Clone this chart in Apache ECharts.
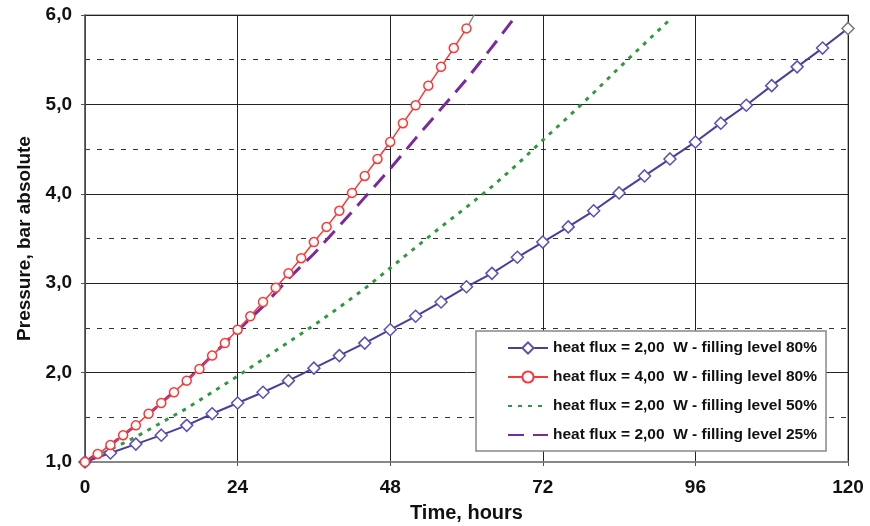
<!DOCTYPE html>
<html>
<head>
<meta charset="utf-8">
<script src="https://cdn.jsdelivr.net/npm/echarts@6/dist/echarts.min.js"></script>
<style>
  html, body { margin: 0; padding: 0; background: #fff; }
  #chart { width: 870px; height: 526px; }
</style>
</head>
<body>
<div id="chart"></div>
<script>
  const hoursBlue = [0, 4, 8, 12, 16, 20, 24, 28, 32, 36, 40, 44, 48, 52, 56, 60, 64, 68, 72, 76, 80, 84, 88, 92, 96, 100, 104, 108, 112, 116, 120]
  const pressBlue = [1.00, 1.10, 1.20, 1.30, 1.41, 1.54, 1.66, 1.78, 1.91, 2.05, 2.19, 2.33, 2.48, 2.63, 2.79, 2.96, 3.11, 3.29, 3.46, 3.63, 3.81, 4.01, 4.20, 4.39, 4.58, 4.79, 4.99, 5.21, 5.42, 5.63, 5.85]

  const hoursRed = [0, 2, 4, 6, 8, 10, 12, 14, 16, 18, 20, 22, 24, 26, 28, 30, 32, 34, 36, 38, 40, 42, 44, 46, 48, 50, 52, 54, 56, 58, 60]
  const pressRed = [1.00, 1.09, 1.19, 1.30, 1.41, 1.54, 1.66, 1.78, 1.91, 2.04, 2.19, 2.33, 2.48, 2.63, 2.79, 2.95, 3.11, 3.28, 3.46, 3.63, 3.81, 4.01, 4.20, 4.39, 4.58, 4.79, 4.99, 5.21, 5.42, 5.63, 5.85]

  const hoursGreen = [0, 4, 8, 12, 16, 20, 24, 28, 32, 36, 40, 44, 48, 52, 56, 60, 64, 68, 72, 76, 80, 84, 88, 92]
  const pressGreen = [1.00, 1.14, 1.28, 1.44, 1.60, 1.78, 1.96, 2.15, 2.34, 2.53, 2.73, 2.94, 3.17, 3.40, 3.63, 3.85, 4.08, 4.33, 4.60, 4.86, 5.13, 5.41, 5.68, 5.95]

  const hoursPurple = [0, 4, 8, 12, 16, 20, 24, 28, 32, 36, 40, 44, 48, 52, 56, 60, 64, 68]
  const pressPurple = [1.00, 1.19, 1.41, 1.66, 1.91, 2.19, 2.47, 2.74, 3.05, 3.33, 3.64, 3.96, 4.28, 4.62, 4.95, 5.28, 5.64, 6.01]

  // grey stub after last red point
  const hoursRedTail = [60, 61.2]
  const pressRedTail = [5.85, 6.0]

  const xTicks = [0, 24, 48, 72, 96, 120]

  const names = [
    'heat flux = 2,00  W - filling level 80%',
    'heat flux = 4,00  W - filling level 80%',
    'heat flux = 2,00  W - filling level 50%',
    'heat flux = 2,00  W - filling level 25%'
  ]

  function pairs(xs, ys) {
    return xs.map((x, i) => [x, ys[i]])
  }

  const blueData = pairs(hoursBlue, pressBlue)
  const last = blueData.length - 1
  blueData[last] = { value: blueData[last], itemStyle: { borderColor: '#777' } }

  const font = 'Liberation Sans, Arial, sans-serif'
  const chart = echarts.init(document.getElementById('chart'))

  chart.setOption({
    animation: false,
    grid: {
      left: 85,
      right: 22,
      top: 15,
      bottom: 64,
      outerBoundsMode: 'none',
      containLabel: false,
      show: true,
      borderColor: '#999',
      borderWidth: 1.5
    },
    legend: {
      orient: 'vertical',
      left: 476,
      top: 331,
      backgroundColor: '#fff',
      borderColor: '#888',
      borderWidth: 1.5,
      padding: [9, 9, 8, 31],
      itemGap: 13,
      itemWidth: 40,
      itemHeight: 14,
      data: [
        { name: names[0] },
        { name: names[1] },
        { name: names[2], itemStyle: { opacity: 0 } },
        { name: names[3], itemStyle: { opacity: 0 } }
      ],
      textStyle: {
        fontFamily: font,
        fontWeight: 'bold',
        fontSize: 15.5,
        color: '#111'
      }
    },
    xAxis: {
      type: 'value',
      min: 0,
      max: 120,
      interval: 24,
      name: 'Time, hours',
      nameLocation: 'middle',
      nameGap: 41,
      nameTextStyle: { fontFamily: font, fontWeight: 'bold', fontSize: 20, color: '#111' },
      axisLine: { show: true, lineStyle: { color: '#888', width: 2 } },
      axisTick: { show: true, length: 4, lineStyle: { color: '#555' } },
      axisLabel: {
        margin: 16,
        fontFamily: font,
        fontWeight: 'bold',
        fontSize: 19,
        color: '#111',
        customValues: xTicks
      },
      splitLine: { show: true, lineStyle: { color: '#222', width: 1 } }
    },
    yAxis: {
      type: 'value',
      min: 1,
      max: 6,
      interval: 1,
      name: 'Pressure, bar absolute',
      nameLocation: 'middle',
      nameGap: 51,
      nameTextStyle: { fontFamily: font, fontWeight: 'bold', fontSize: 19, color: '#111' },
      axisLine: { show: true, lineStyle: { color: '#555', width: 1.5 } },
      axisTick: { show: true, length: 4, lineStyle: { color: '#555' } },
      axisLabel: {
        margin: 13,
        fontFamily: font,
        fontWeight: 'bold',
        fontSize: 19,
        color: '#111',
        formatter: v => v.toFixed(1).replace('.', ',')
      },
      splitLine: { show: true, lineStyle: { color: '#222', width: 1 } },
      minorTick: { show: false, splitNumber: 2 },
      minorSplitLine: { show: true, lineStyle: { color: '#333', width: 1.2, type: [5, 7] } }
    },
    series: [
      {
        name: names[0],
        type: 'line',
        z: 3,
        data: blueData,
        symbol: 'diamond',
        symbolSize: 12,
        showAllSymbol: true,
        lineStyle: { color: '#4a3d9e', width: 2 },
        itemStyle: { color: '#fff', borderColor: '#5b50b5', borderWidth: 1.5 }
      },
      {
        name: names[1],
        type: 'line',
        z: 4,
        data: pairs(hoursRed, pressRed),
        symbol: 'circle',
        symbolSize: 9,
        showAllSymbol: true,
        lineStyle: { color: '#ff3636', width: 1.5 },
        itemStyle: { color: '#fff', borderColor: '#ff3636', borderWidth: 1.5 }
      },
      {
        name: names[2],
        type: 'line',
        z: 2,
        data: pairs(hoursGreen, pressGreen),
        symbol: 'none',
        lineStyle: { color: '#2e9a3e', width: 3, type: [4, 6] },
        itemStyle: { color: '#2e9a3e' }
      },
      {
        name: names[3],
        type: 'line',
        z: 2,
        data: pairs(hoursPurple, pressPurple),
        symbol: 'none',
        lineStyle: { color: '#7a2a9e', width: 3, type: [16, 9] },
        itemStyle: { color: '#7a2a9e' }
      },
      {
        name: 'tail',
        type: 'line',
        z: 3,
        data: pairs(hoursRedTail, pressRedTail),
        symbol: 'none',
        lineStyle: { color: '#888', width: 1.5 }
      }
    ]
  })
</script>
</body>
</html>
